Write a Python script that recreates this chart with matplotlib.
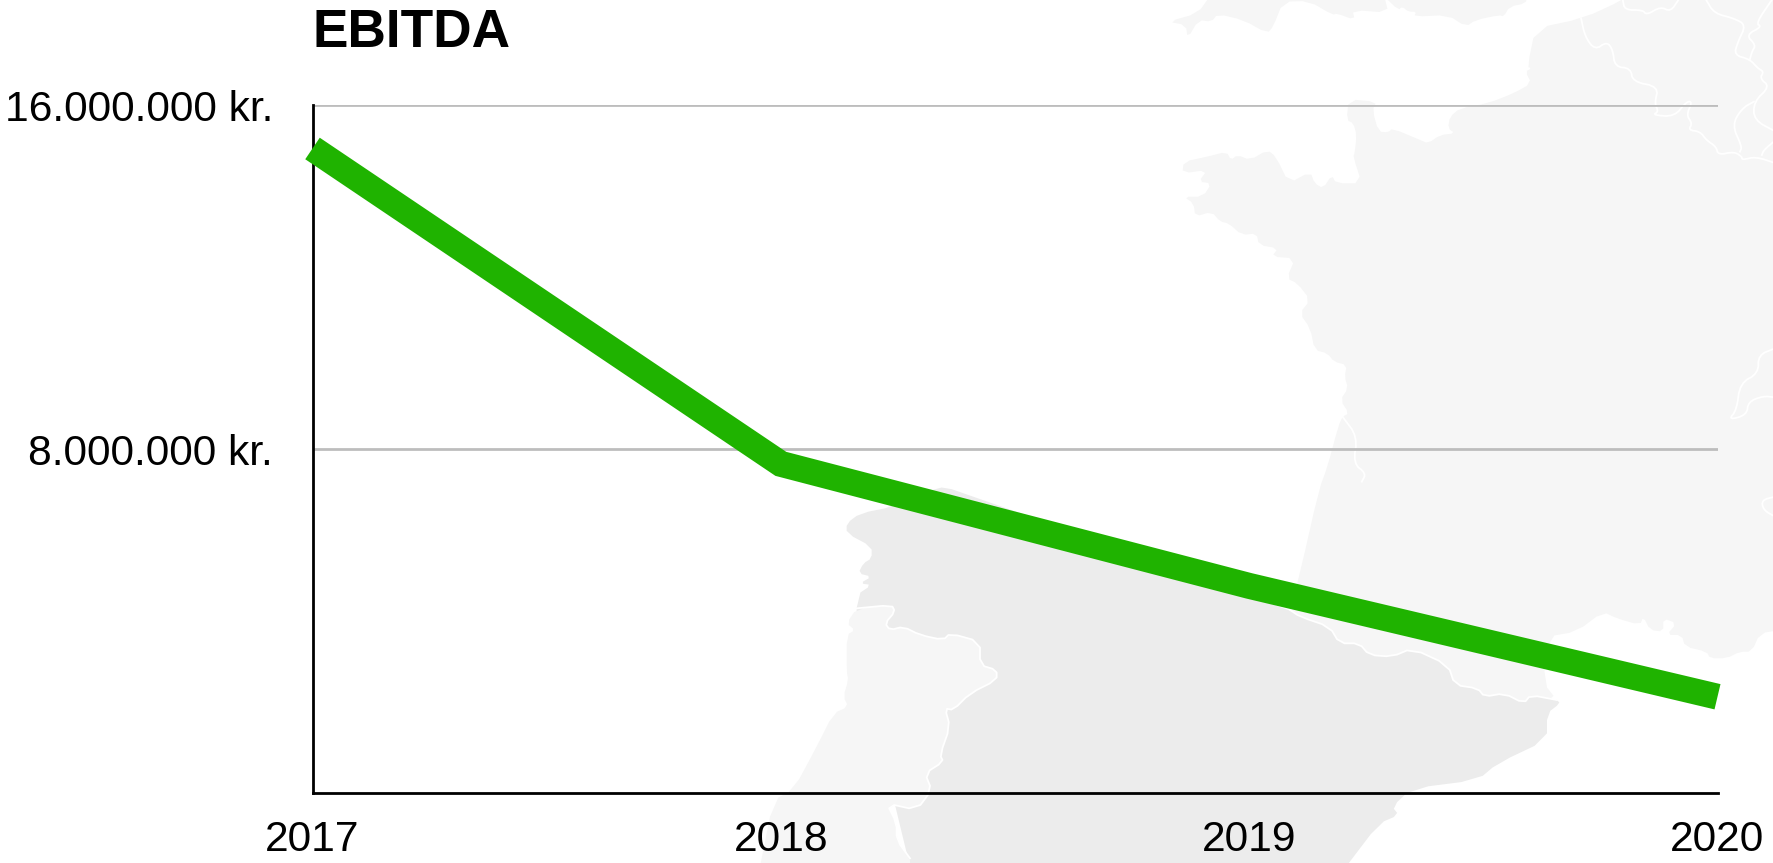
import matplotlib
matplotlib.use("Agg")
import matplotlib.pyplot as plt
from matplotlib.patches import Polygon

plt.rcParams['font.family'] = ['Liberation Sans', 'DejaVu Sans']

# ---- chart data ----
years = ['2017', '2018', '2019', '2020']
ebitda = [15.0e6, 7.66e6, 4.82e6, 2.24e6]
y_ticks = [8e6, 16e6]
y_tick_labels = ['8.000.000 kr.', '16.000.000 kr.']
title = 'EBITDA'

W, H = 1773, 863
LEFT, RIGHT, TOP, BOTTOM = 312.5, 1717.5, 105.5, 793.0
GREEN = '#1fb300'
LAND = '#f6f6f6'
SPAIN = '#ececec'

def z4(p): return [(1150 + x / 2.517, y / 3) for x, y in p]
def z2(p): return [(1100 + x / 2.33, y / 3) for x, y in p]
def z3(p): return [(740 + x / 1.518, 440 + y / 3) for x, y in p]
def z5(p): return [(1500 + x / 3, 320 + y / 3) for x, y in p]
def z6(p): return [(740 + x / 3, 480 + y / 3) for x, y in p]

def soften(pts, closed=False, n=2):
    """Corner-cutting so the traced coasts read as curves rather than polylines."""
    for _ in range(n):
        out = [pts[0]] if not closed else []
        m = len(pts) if closed else len(pts) - 1
        for i in range(m):
            a, b = pts[i], pts[(i + 1) % len(pts)]
            out.append((0.75 * a[0] + 0.25 * b[0], 0.75 * a[1] + 0.25 * b[1]))
            out.append((0.25 * a[0] + 0.75 * b[0], 0.25 * a[1] + 0.75 * b[1]))
        if not closed:
            out.append(pts[-1])
        pts = out
    return pts

uk_a = z4([(150, -10), (150, -10), (120, 40), (45, 65), (90, 75), (95, 115), (122, 60), (155, 65), (170, 42),
           (235, 60), (295, 100), (310, 80), (335, 5), (400, 3), (460, 45), (470, 40), (515, 60),
           (510, 30), (600, 38), (590, -10), (590, -10)])
uk_b = z4([(590, -10), (590, -10), (625, 30), (635, 20), (650, 35), (670, 35), (665, 50), (750, 45), (795, 80),
           (820, 60), (880, 45), (890, 50), (905, 20), (945, 10), (950, -10), (950, -10)])

france_n = z4([(1190, -10), (1190, -10), (1190, 0), (1090, 55), (970, 85), (950, 200), (960, 205), (945, 215),
               (960, 250), (915, 280), (850, 310), (780, 325), (755, 350), (750, 385), (768, 400),
               (730, 405), (700, 430), (680, 420), (610, 385), (600, 397), (575, 395), (560, 330),
               (570, 305), (500, 298), (495, 360), (512, 370), (520, 405), (515, 460)])
france_w = z2([(590, 470), (610, 550), (550, 550), (540, 525), (520, 565), (500, 550), (490, 515),
               (440, 550), (410, 470), (390, 450), (350, 480), (320, 465), (305, 480), (295, 455),
               (250, 470), (195, 485), (192, 520), (250, 510), (230, 545), (260, 550), (240, 590),
               (195, 590), (218, 610), (222, 650), (260, 635), (280, 665), (300, 670), (330, 705),
               (365, 700), (370, 735), (415, 745), (400, 770), (455, 775), (435, 835), (460, 850),
               (490, 900), (465, 940), (490, 985), (500, 1050), (530, 1060), (545, 1085), (575, 1095),
               (570, 1130), (578, 1165), (560, 1200), (580, 1240), (565, 1250), (555, 1280),
               (530, 1400), (510, 1470)])
biscay = z3([(850, 400)])
pyrenees = z3([(835, 510), (850, 530), (895, 560), (910, 610), (940, 610), (955, 645),
               (990, 650), (1020, 625), (1075, 675), (1085, 735), (1120, 745), (1130, 770), (1160, 760),
               (1190, 790), (1200, 765), (1240, 780)])
france_s = z3([(1220, 730), (1225, 590), (1270, 575), (1310, 515)]) + z5(
    [(350, 895), (420, 915), (430, 890), (450, 930), (490, 935), (490, 895), (530, 910), (500, 945),
     (545, 945), (555, 980), (620, 995), (630, 1015), (680, 1015), (720, 995), (755, 995), (780, 940),
     (840, 930), (840, 930)])
france = france_n + france_w + biscay + pyrenees + france_s + [(1780, -10), (1780, -10)]

spain = z6([(320, 130), (320, 160), (395, 200), (395, 235), (370, 250), (355, 280), (395, 290),
            (360, 310), (395, 315), (350, 345), (350, 500), (510, 1160), (510, 1160)]) + z3(
    [(920, 1280), (920, 1280), (970, 1150), (1000, 1125), (990, 1100), (1020, 1045), (1120, 1020), (1150, 970),
     (1225, 900), (1225, 820), (1245, 790), (1240, 780)]) + pyrenees[::-1] + z6(
    [(650, 30), (590, 20), (460, 80), (360, 100)])
portugal = z6([(350, 385), (320, 430), (345, 450), (320, 465), (320, 575), (325, 600), (310, 650),
               (325, 680), (280, 700), (230, 800), (160, 930), (100, 960), (60, 1160), (60, 1160),
               (510, 1160), (510, 1160),
               (510, 1135), (470, 1080), (470, 1030), (440, 970), (530, 990), (575, 930), (555, 880),
               (610, 845), (600, 825), (630, 740), (615, 685), (640, 690), (690, 640), (770, 600),
               (770, 570), (720, 555), (720, 485), (630, 460), (610, 480), (540, 465), (490, 440),
               (450, 450), (435, 430), (465, 395), (455, 375)])
portugal_border = portugal[16:] + portugal[:1]

borders = [
    z4([(1085, 55), (1095, 110), (1120, 150), (1150, 125), (1165, 150), (1170, 200), (1210, 205),
        (1215, 245), (1280, 260), (1270, 310), (1280, 335), (1265, 345), (1320, 350), (1350, 305),
        (1365, 305), (1350, 345), (1365, 370), (1355, 390), (1385, 395), (1400, 420), (1425, 440),
        (1430, 465), (1470, 455), (1490, 470), (1490, 480), (1525, 470), (1575, 490)]),
    z4([(1190, 0), (1195, 30), (1240, 30), (1250, 45), (1285, 20), (1310, 35), (1330, 0)]),
    z4([(1400, 0), (1420, 40), (1470, 55), (1500, 75), (1480, 125), (1470, 165), (1510, 178),
        (1530, 205), (1545, 215), (1535, 235), (1560, 260), (1520, 305), (1520, 360), (1575, 395)]),
    z4([(1565, 0), (1525, 70), (1540, 80), (1500, 105), (1525, 135), (1515, 155), (1510, 178)]),
    z4([(1520, 305), (1490, 325), (1465, 375), (1490, 440), (1485, 455)]),
    z4([(1575, 420), (1545, 450), (1540, 465)]),
    z5([(825, 85), (775, 105), (775, 160), (720, 190), (710, 270), (685, 300), (740, 285), (745, 245),
        (790, 228), (825, 232)]),
    z5([(825, 530), (785, 540), (790, 570), (825, 590)]),
    z2([(565, 1250), (600, 1310), (590, 1390), (620, 1420), (610, 1445)]),
]

fig = plt.figure(figsize=(W / 100, H / 100), dpi=100, facecolor='white')

bg = fig.add_axes([0, 0, 1, 1], zorder=0)
bg.set_xlim(0, W)
bg.set_ylim(H, 0)
bg.axis('off')
for pts, col in [(uk_a, LAND), (uk_b, LAND), (france, LAND), (spain, SPAIN), (portugal, LAND)]:
    bg.add_patch(Polygon(soften(pts, closed=True, n=1), closed=True, facecolor=col, edgecolor='none', lw=0))
bg.plot(*zip(*soften(pyrenees, n=1)), color='white', lw=1.3)
bg.plot(*zip(*soften(portugal_border, n=1)), color='white', lw=1.3)
for b in borders:
    bg.plot(*zip(*soften(b)), color='white', lw=1.3)

# ---- chart ----
ax = fig.add_axes([LEFT / W, 1 - BOTTOM / H, (RIGHT - LEFT) / W, (BOTTOM - TOP) / H], zorder=1)
ax.patch.set_alpha(0)
x = range(len(years))
ax.plot(x, ebitda, color=GREEN, lw=18.7, solid_capstyle='butt', solid_joinstyle='miter',
        clip_on=False, zorder=3)
ax.set_xlim(0, len(years) - 1)
ax.set_ylim(0, 16e6)
ax.set_xticks(list(x), years)
ax.set_yticks(y_ticks, y_tick_labels)
ax.grid(axis='y', color='#bdbdbd', lw=2.0, zorder=1)
ax.set_axisbelow(True)
for s in ('top', 'right'):
    ax.spines[s].set_visible(False)
for s in ('left', 'bottom'):
    ax.spines[s].set_color('black')
    ax.spines[s].set_linewidth(2.0)
    ax.spines[s].set_zorder(2)
ax.tick_params(axis='x', length=0, pad=19.5, labelsize=30.6, colors='black')
ax.tick_params(axis='y', length=0, pad=28.5, labelsize=30.6, colors='black')
for lab in ax.get_xticklabels() + ax.get_yticklabels():
    lab.set_clip_on(False)

fig.text(313 / W, 1 - 47 / H, title, fontsize=38.3, fontweight='bold', color='black',
         ha='left', va='baseline')

fig.savefig('out.png', dpi=100)
